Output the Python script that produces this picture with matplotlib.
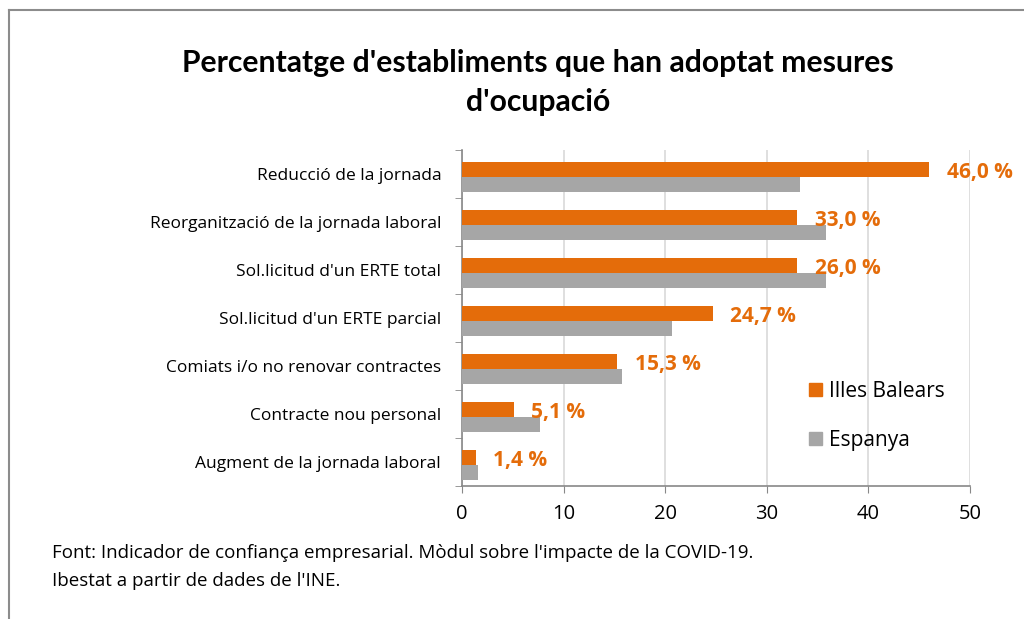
import numpy as np
import matplotlib.pyplot as plt
from matplotlib.patches import Patch
from matplotlib.lines import Line2D

# dades
categories = [
    "Reducció de la jornada",
    "Reorganització de la jornada laboral",
    "Sol.licitud d'un ERTE total",
    "Sol.licitud d'un ERTE parcial",
    "Comiats i/o no renovar contractes",
    "Contracte nou personal",
    "Augment de la jornada laboral",
]
balears = [46.0, 33.0, 33.0, 24.7, 15.3, 5.1, 1.4]
espanya = [33.3, 35.8, 35.8, 20.7, 15.7, 7.7, 1.6]
balears_labels = ["46,0 %", "33,0 %", "26,0 %", "24,7 %", "15,3 %", "5,1 %", "1,4 %"]
x_ticks = [0, 10, 20, 30, 40, 50]

orange = "#E46C0A"
grey = "#A6A6A6"
plt.rcParams['font.family'] = ['Open Sans', 'DejaVu Sans']

fig = plt.figure(figsize=(10.24, 6.19), dpi=100)
ax = fig.add_axes([462 / 1024, 1 - 486 / 619, 508 / 1024, 336 / 619])

y = np.arange(len(categories))
h = 0.31
ax.barh(y - 0.10, balears, height=h, color=orange, zorder=3)
ax.barh(y + 0.21, espanya, height=h, color=grey, zorder=3)

for yi, v, lab in zip(y, balears, balears_labels):
    ax.text(v + 1.7, yi - 0.04, lab, color=orange, fontsize=15, fontweight='bold',
            va='center', ha='left')

ax.set_xlim(0, 50)
ax.set_ylim(len(categories) - 0.5, -0.5)
ax.set_xticks(x_ticks)
ax.set_xticklabels([str(t) for t in x_ticks], fontsize=14.5)
ax.set_yticks(y)
ax.set_yticklabels(categories, fontsize=12.5)
ax.set_yticks(np.arange(-0.5, len(categories), 1), minor=True)
ax.tick_params(axis='y', which='major', length=0, pad=15)
ax.tick_params(axis='y', which='minor', length=5, color='#888888', direction='out')
ax.tick_params(axis='x', length=5, color='#888888', pad=8)
ax.grid(axis='x', color='#D9D9D9', linewidth=1.2, zorder=0)
for s in ['top', 'right']:
    ax.spines[s].set_visible(False)
for s in ['left', 'bottom']:
    ax.spines[s].set_color('#888888')
    ax.spines[s].set_linewidth(1.2)

handles = [Patch(color=orange, label="Illes Balears"), Patch(color=grey, label="Espanya")]
ax.legend(handles=handles, loc='upper left', bbox_to_anchor=(809 / 1024, 1 - 381 / 619),
          bbox_transform=fig.transFigure, frameon=False, fontsize=15,
          handlelength=0.6, handleheight=0.6, handletextpad=0.35, labelspacing=1.35,
          borderpad=0, borderaxespad=0)

fig.text(538 / 1024, 1 - 63 / 619, "Percentatge d'establiments que han adoptat mesures",
         fontsize=21.7, fontweight='bold', family=['Lato', 'DejaVu Sans'],
         ha='center', va='center')
fig.text(538 / 1024, 1 - 102 / 619, "d'ocupació",
         fontsize=21.7, fontweight='bold', family=['Lato', 'DejaVu Sans'],
         ha='center', va='center')

fig.text(52 / 1024, 1 - 553 / 619,
         "Font: Indicador de confiança empresarial. Mòdul sobre l'impacte de la COVID-19.",
         fontsize=13.5, ha='left', va='center')
fig.text(52 / 1024, 1 - 581 / 619, "Ibestat a partir de dades de l'INE.",
         fontsize=13.5, ha='left', va='center')

# marc del gràfic
fig.add_artist(Line2D([9 / 1024, 1.0], [1 - 10 / 619] * 2, color='#8C8C8C', lw=1.5,
                      transform=fig.transFigure))
fig.add_artist(Line2D([9 / 1024] * 2, [0, 1 - 10 / 619], color='#8C8C8C', lw=1.5,
                      transform=fig.transFigure))

fig.savefig("out.png", dpi=100)
